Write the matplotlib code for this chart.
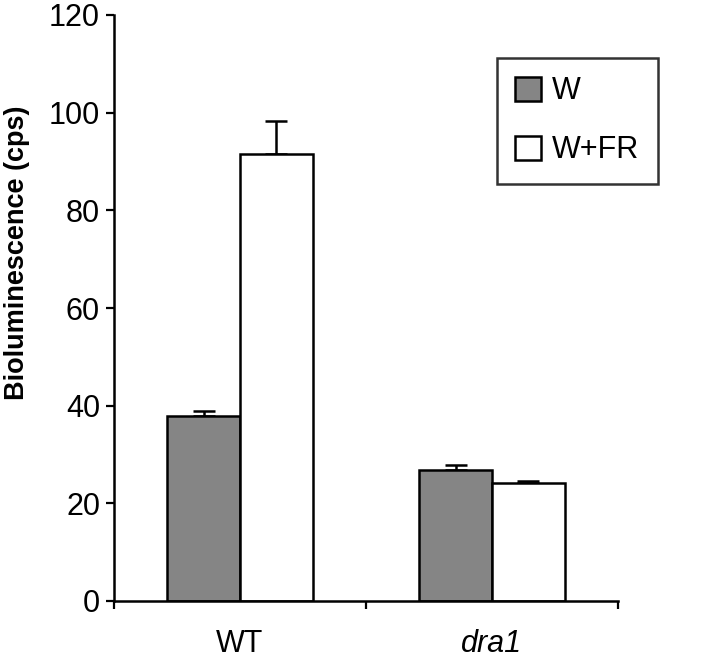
import numpy as np
import matplotlib
matplotlib.use("Agg")
from matplotlib import pyplot as plt

plt.rcParams['font.family'] = ['Liberation Sans', 'DejaVu Sans']

# data
groups = ["WT", "dra1"]
series = ["W", "W+FR"]
w_vals = [37.8, 26.9]
wfr_vals = [91.6, 24.1]
w_err = [1.2, 1.0]
wfr_err = [6.7, 0.5]

fig = plt.figure(figsize=(7.2, 6.64), dpi=100)
ax = fig.add_axes([114 / 720, 1 - 601 / 664, 504 / 720, 586 / 664])

x = np.arange(len(groups))
bw = 0.288
lw = 1.8

ax.bar(x - bw / 2, w_vals, bw, color="#858585", edgecolor="black", linewidth=lw,
       label=series[0], zorder=2)
ax.bar(x + bw / 2, wfr_vals, bw, color="white", edgecolor="black", linewidth=lw,
       label=series[1], zorder=2)
# only the upper half of the error bars is drawn
ax.errorbar(x - bw / 2, w_vals, yerr=[np.zeros(2), w_err], fmt="none", ecolor="black",
            elinewidth=1.8, capsize=8, capthick=1.8, zorder=1)
ax.errorbar(x + bw / 2, wfr_vals, yerr=[np.zeros(2), wfr_err], fmt="none", ecolor="black",
            elinewidth=1.8, capsize=8, capthick=1.8, zorder=1)

ax.set_xlim(-0.5, 1.5)
ax.set_ylim(0, 120)
ax.set_yticks(range(0, 121, 20))
ax.set_xticks([-0.5, 0.5, 1.5])
ax.set_xticklabels([])
ax.set_xticks(x, minor=True)
ax.set_xticklabels(groups, minor=True)
ax.tick_params(axis="x", which="minor", length=0, pad=20, labelsize=22)
ax.tick_params(axis="x", which="major", length=6, width=1.6, direction="out")
ax.tick_params(axis="y", length=6, width=1.6, direction="out", labelsize=22, pad=4)
for lab in ax.get_xticklabels(minor=True):
    if lab.get_text() == "dra1":
        lab.set_style("italic")

for s in ["top", "right"]:
    ax.spines[s].set_visible(False)
for s in ["left", "bottom"]:
    ax.spines[s].set_linewidth(1.8)

fig.text(17 / 720, 1 - 253 / 664, "Bioluminescence (cps)", rotation=90,
         ha="center", va="center", fontsize=19.5, fontweight="bold")

leg = ax.legend(loc="upper left", bbox_to_anchor=(497 / 720, 1 - 58 / 664),
                bbox_transform=fig.transFigure, fontsize=22, frameon=True, fancybox=False,
                handlelength=0.85, handleheight=0.85, handletextpad=0.36,
                labelspacing=0.95, borderpad=0.6, borderaxespad=0)
leg.get_frame().set_edgecolor("black")
leg.get_frame().set_linewidth(1.8)

fig.savefig("out.png", dpi=100)
